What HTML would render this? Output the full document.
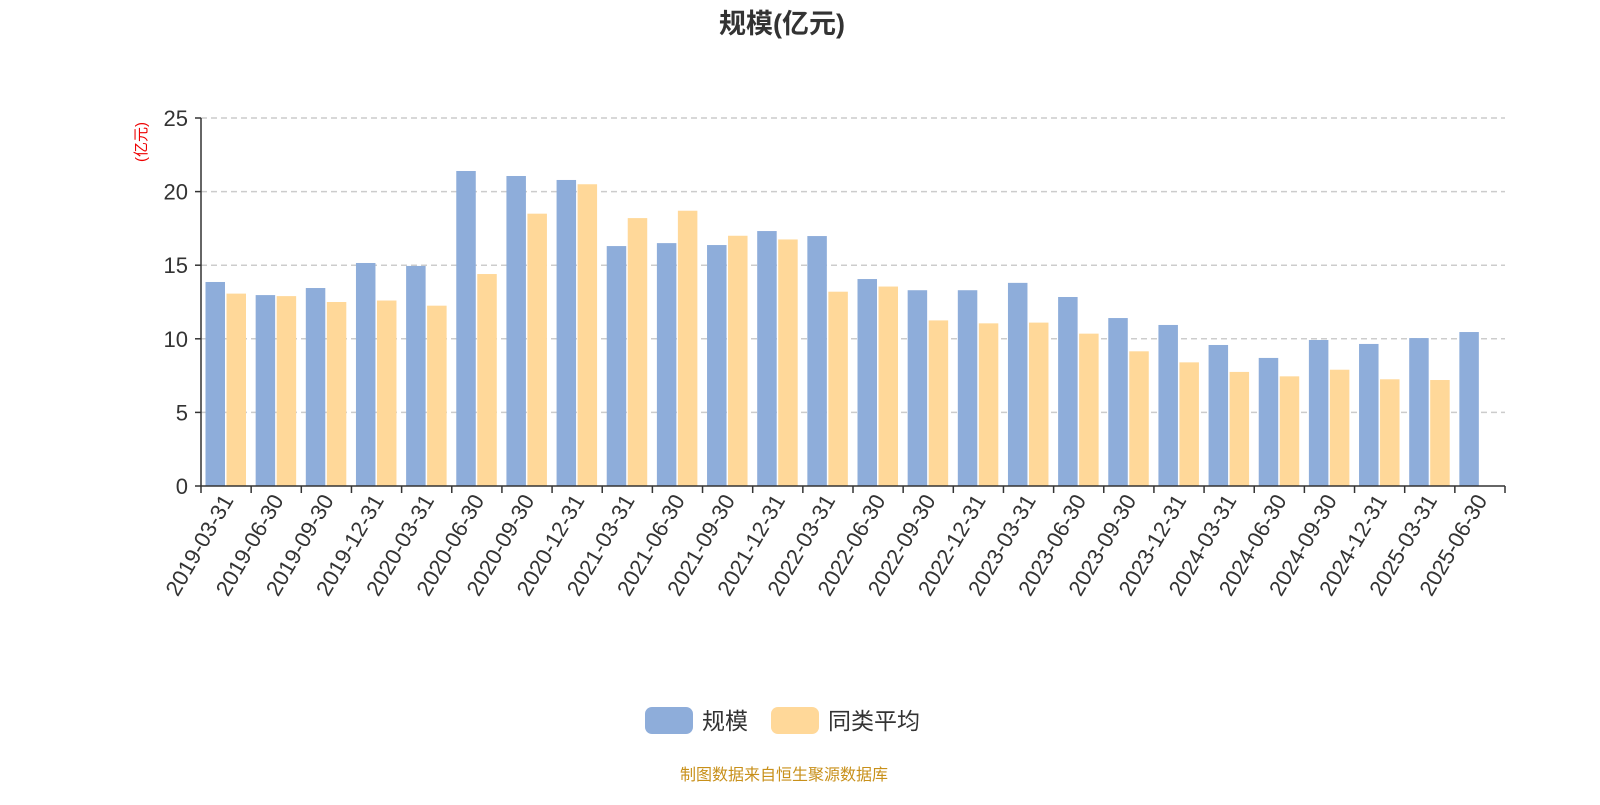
<!DOCTYPE html>
<html><head><meta charset="utf-8"><style>
body{margin:0;background:#fff;font-family:"Liberation Sans","Noto Sans CJK SC",sans-serif}
</style></head><body>
<svg id="c" width="1600" height="800" xmlns="http://www.w3.org/2000/svg" style="font-family:'Liberation Sans','Noto Sans CJK SC',sans-serif">
<text x="782" y="33" text-anchor="middle" font-size="27" font-weight="bold" fill="#333">规模(亿元)</text>
<text transform="translate(146,142) rotate(-90)" text-anchor="middle" font-size="15" fill="#e00">(亿元)</text>
<g id="grid"></g><g id="bars"></g><g id="axes"></g>
<g>
<g><rect x="645" y="707" width="48" height="27" rx="7" fill="#8eadda"/><text x="702" y="729" font-size="23" fill="#333">规模</text></g>
<g><rect x="771" y="707" width="48" height="27" rx="7" fill="#ffd899"/><text x="828" y="729" font-size="23" fill="#333">同类平均</text></g>
</g>
<text x="784" y="780" text-anchor="middle" font-size="16" fill="#c8901a">制图数据来自恒生聚源数据库</text>
</svg>
<script>
const categories=["2019-03-31","2019-06-30","2019-09-30","2019-12-31","2020-03-31","2020-06-30","2020-09-30","2020-12-31","2021-03-31","2021-06-30","2021-09-30","2021-12-31","2022-03-31","2022-06-30","2022-09-30","2022-12-31","2023-03-31","2023-06-30","2023-09-30","2023-12-31","2024-03-31","2024-06-30","2024-09-30","2024-12-31","2025-03-31","2025-06-30"];
const scaleValues=[13.86,12.97,13.45,15.15,14.95,21.4,21.06,20.79,16.3,16.5,16.37,17.32,16.98,14.06,13.3,13.3,13.8,12.84,11.41,10.94,9.58,8.7,9.92,9.65,10.05,10.46];
const avgValues=[13.07,12.9,12.5,12.6,12.25,14.4,18.5,20.5,18.2,18.7,17.0,16.75,13.2,13.55,11.25,11.05,11.1,10.35,9.15,8.4,7.75,7.45,7.9,7.25,7.2,null];
const yTicks=[0,5,10,15,20,25];
const NS="http://www.w3.org/2000/svg";
const X0=201,X1=1505,Y0=486,Y1=118,YMAX=25;
const band=(X1-X0)/categories.length;
const y=v=>Y0-(v/YMAX)*(Y0-Y1);
function mk(t,a,p){const e=document.createElementNS(NS,t);for(const k in a)e.setAttribute(k,a[k]);p.appendChild(e);return e;}
const grid=document.getElementById('grid'),bars=document.getElementById('bars'),axes=document.getElementById('axes');
yTicks.forEach(t=>{
  if(t>0){const l=mk('line',{x1:X0,x2:X1,y1:y(t),y2:y(t),stroke:'#ccc','stroke-dasharray':'6,4','stroke-width':1.5},grid);
  
  }
  const tx=mk('text',{x:X0-13,y:y(t)+8,'text-anchor':'end','font-size':22,fill:'#333'},axes);tx.textContent=t;
  
  
  mk('line',{x1:X0-6,x2:X0,y1:y(t),y2:y(t),stroke:'#333','stroke-width':1.5},axes);
});
const bw=19.5;
categories.forEach((c,i)=>{
  const bx=X0+i*band+4.5;
  if(scaleValues[i]!=null){const r=mk('rect',{x:bx,y:y(scaleValues[i]),width:bw,height:Y0-y(scaleValues[i]),fill:'#8eadda'},bars);
  
  }
  if(avgValues[i]!=null){const r=mk('rect',{x:bx+bw+1.5,y:y(avgValues[i]),width:bw,height:Y0-y(avgValues[i]),fill:'#ffd899'},bars);
  
  }
  const tx=X0+(i+1)*band;
  mk('line',{x1:tx,x2:tx,y1:Y0,y2:Y0+7,stroke:'#333','stroke-width':1.5},axes);
  const cx=X0+(i+0.5)*band+8;
  const lb=mk('text',{transform:`translate(${cx},${Y0+14}) rotate(-60)`,'text-anchor':'end','font-size':22,fill:'#333'},axes);
  lb.textContent=c;
  
  
});
mk('line',{x1:X0,x2:X0,y1:Y0,y2:Y0+7,stroke:'#333','stroke-width':1.5},axes);
const ya=mk('line',{x1:X0,x2:X0,y1:Y1,y2:Y0,stroke:'#333','stroke-width':1.5},axes);


const xa=mk('line',{x1:X0,x2:X1,y1:Y0,y2:Y0,stroke:'#333','stroke-width':1.5},axes);


</script>
</body></html>
